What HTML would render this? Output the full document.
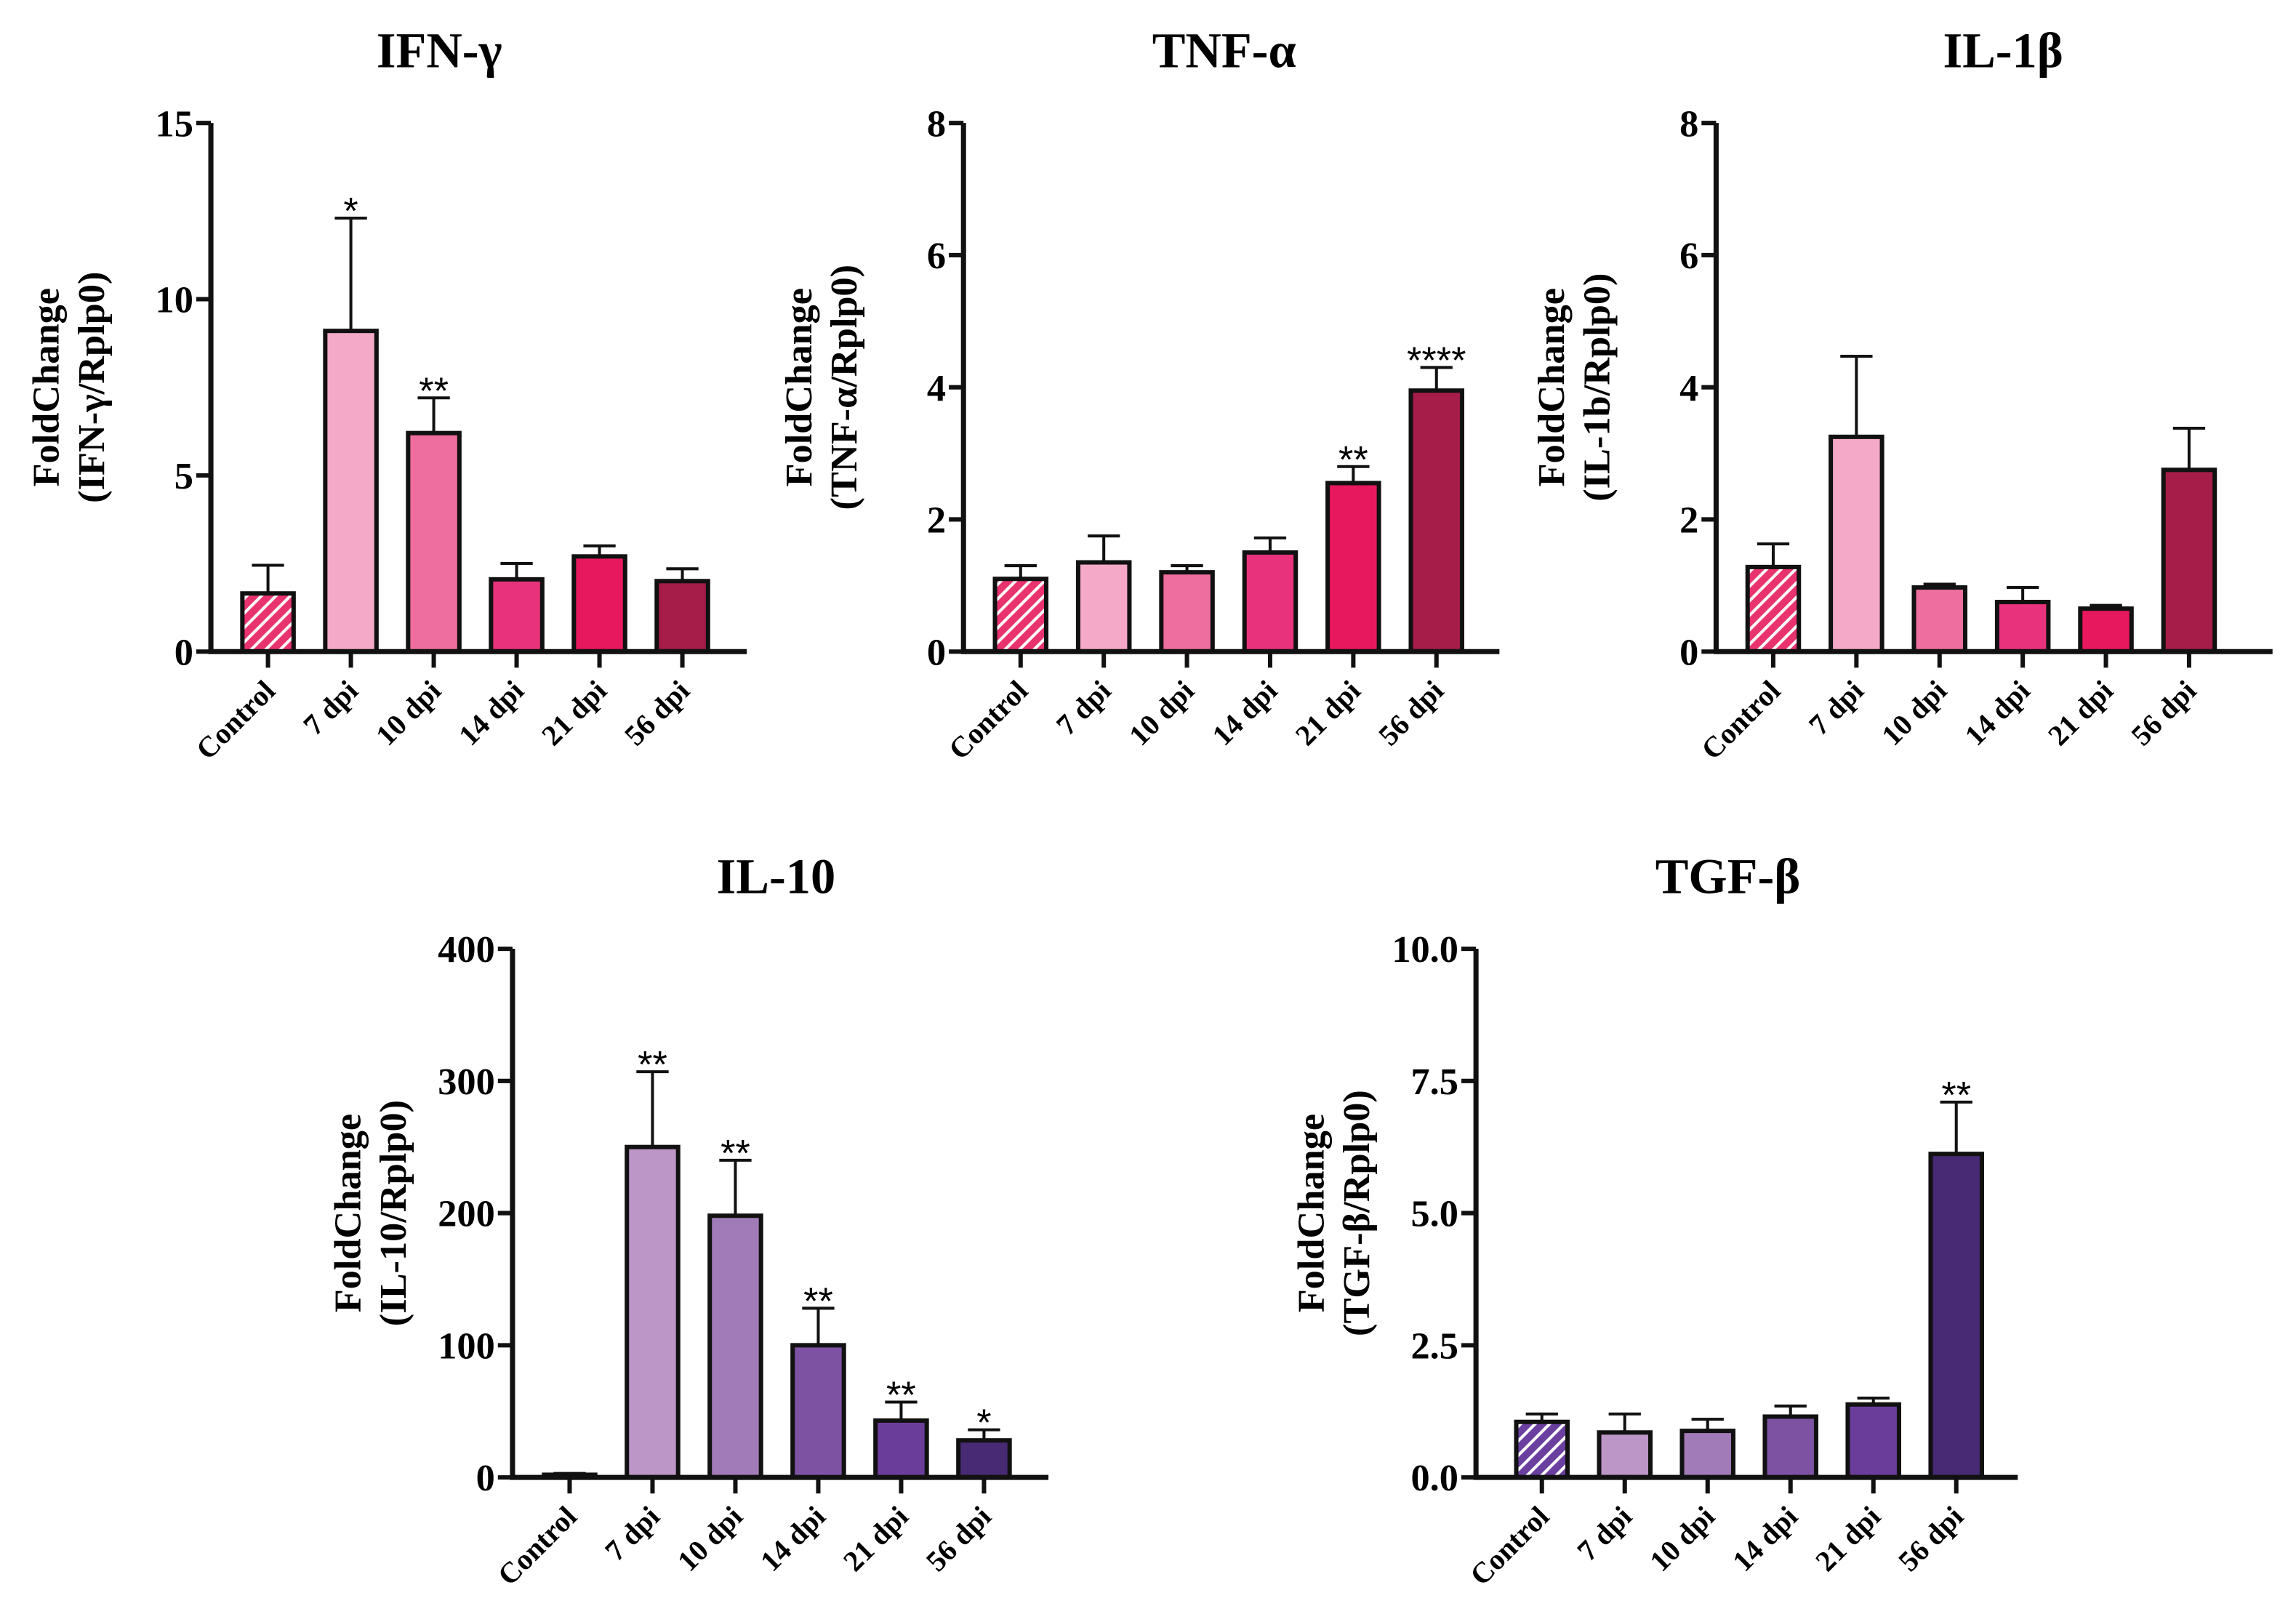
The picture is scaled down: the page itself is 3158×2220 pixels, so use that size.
<!DOCTYPE html>
<html><head><meta charset="utf-8"><style>
html,body{margin:0;padding:0;background:#fff;}
svg{display:block;font-family:"Liberation Serif",serif;font-weight:bold;}
</style></head><body>
<svg id="fig" width="3158" height="2220" viewBox="0 0 1568 1102.3" xmlns="http://www.w3.org/2000/svg">
<defs>
<pattern id="hatchPink" patternUnits="userSpaceOnUse" width="7" height="7" patternTransform="rotate(45)"><rect width="7" height="7" fill="#e8336e"/><rect x="0" y="0" width="2" height="7" fill="#fff"/></pattern>
<pattern id="hatchPurple" patternUnits="userSpaceOnUse" width="7" height="7" patternTransform="rotate(45)"><rect width="7" height="7" fill="#6a3fa0"/><rect x="0" y="0" width="2" height="7" fill="#fff"/></pattern>
</defs>
</svg>
<script>
const categories = ["Control","7 dpi","10 dpi","14 dpi","21 dpi","56 dpi"];
const ifnValues = [1.65, 9.1, 6.2, 2.05, 2.7, 2.0];
const ifnErrTop = [2.45, 12.3, 7.2, 2.5, 3.0, 2.35];
const ifnStars = ["", "*", "**", "", "", ""];
const ifnTicks = [0, 5, 10, 15];
const tnfValues = [1.1, 1.35, 1.2, 1.5, 2.55, 3.95];
const tnfErrTop = [1.3, 1.75, 1.3, 1.72, 2.8, 4.3];
const tnfStars = ["", "", "", "", "**", "****"];
const tnfTicks = [0, 2, 4, 6, 8];
const il1Values = [1.28, 3.25, 0.97, 0.75, 0.65, 2.75];
const il1ErrTop = [1.63, 4.47, 1.02, 0.97, 0.7, 3.38];
const il1Stars = ["", "", "", "", "", ""];
const il1Ticks = [0, 2, 4, 6, 8];
const il10Values = [2, 250, 198, 100, 43, 28];
const il10ErrTop = [3, 307, 240, 128, 57, 36];
const il10Stars = ["", "**", "**", "**", "**", "*"];
const il10Ticks = [0, 100, 200, 300, 400];
const tgfValues = [1.05, 0.85, 0.88, 1.15, 1.38, 6.12];
const tgfErrTop = [1.2, 1.2, 1.1, 1.35, 1.5, 7.1];
const tgfStars = ["", "", "", "", "", "**"];
const tgfTicks = ["0.0", "2.5", "5.0", "7.5", "10.0"];

const pinkColors = ["url(#hatchPink)","#f4a9c8","#ef6ea0","#e8327c","#e8185e","#a51d48"];
const purpleColors = ["url(#hatchPurple)","#bd96c8","#a07bb8","#7d52a3","#6a3d9a","#472a73"];

const svg = document.getElementById('fig');
const NS = "http://www.w3.org/2000/svg";
function mk(tag, attrs, parent){
  const e = document.createElementNS(NS, tag);
  for (const k in attrs) e.setAttribute(k, attrs[k]);
  (parent||svg).appendChild(e);
  return e;
}

function panel(o){
  const g = mk('g', {});
  
  
  const ticks = o.ticks.map(Number);
  const maxV = ticks[ticks.length-1];
  const y = v => o.y0 - (v / maxV) * (o.y0 - o.yTop);
  const x = i => o.x0 + o.first + i * o.step;
  const t = mk('text', {x:o.titleX, y:o.yTop-38, 'font-size':34, 'text-anchor':'middle'}, g);
  t.textContent = o.title;
  
  
  const midY = (o.y0 + o.yTop)/2;
  const yl = mk('text', {transform:`translate(${o.x0-104},${midY}) rotate(-90)`, 'font-size':26, 'text-anchor':'middle'}, g);
  yl.textContent = 'FoldChange';
  
  
  const yl2 = mk('text', {transform:`translate(${o.x0-73},${midY}) rotate(-90)`, 'font-size':26, 'text-anchor':'middle'}, g);
  yl2.textContent = o.ylabel;
  
  
  o.values.forEach((v,i)=>{
    const cx = x(i), w = 35;
    const eb = mk('path', {d:`M${cx} ${y(v)} V${y(o.err[i])} M${cx-11} ${y(o.err[i])} H${cx+11}`, stroke:'#111', 'stroke-width':2, fill:'none'}, g);
    
    
    const r = mk('rect', {x:cx-w/2, y:y(v), width:w, height:o.y0-y(v), fill:o.colors[i], stroke:'#111', 'stroke-width':3}, g);
    
    
    if (o.stars[i]) {
      const s = mk('text', {x:cx, y:y(o.err[i])+4, 'font-size':26, 'text-anchor':'middle', 'font-weight':'normal', 'font-family':'"Liberation Sans",sans-serif'}, g);
      s.textContent = o.stars[i];
      
      
    }
    const tk = mk('line', {x1:cx, x2:cx, y1:o.y0, y2:o.y0+11, stroke:'#111', 'stroke-width':3}, g);
    
    
    const lb = mk('text', {transform:`translate(${cx+6},${o.y0+28}) rotate(-45)`, 'font-size':20, 'text-anchor':'end'}, g);
    lb.textContent = categories[i];
    
    
  });
  const ax = mk('path', {d:`M${o.x0} ${o.yTop} V${o.y0} H${o.xEnd}`, stroke:'#111', 'stroke-width':3.5, fill:'none'}, g);
  
  
  o.ticks.forEach(tv=>{
    const yy = y(Number(tv));
    const tl = mk('line', {x1:o.x0-10, x2:o.x0, y1:yy, y2:yy, stroke:'#111', 'stroke-width':3}, g);
    
    
    const tt = mk('text', {x:o.x0-12, y:yy+9, 'font-size':26, 'text-anchor':'end'}, g);
    tt.textContent = tv;
    
    
  });
}

panel({key:'ifn', title:'IFN-γ', ylabel:'(IFN-γ/Rplp0)', x0:144, yTop:84, y0:445, xEnd:510, first:39, step:56.6, titleX:300, ticks:ifnTicks, values:ifnValues, err:ifnErrTop, stars:ifnStars, colors:pinkColors});
panel({key:'tnf', title:'TNF-α', ylabel:'(TNF-α/Rplp0)', x0:658, yTop:84, y0:445, xEnd:1024, first:39, step:56.8, titleX:836, ticks:tnfTicks, values:tnfValues, err:tnfErrTop, stars:tnfStars, colors:pinkColors});
panel({key:'il1b', title:'IL-1β', ylabel:'(IL-1b/Rplp0)', x0:1172, yTop:84, y0:445, xEnd:1552, first:39, step:56.8, titleX:1368, ticks:il1Ticks, values:il1Values, err:il1ErrTop, stars:il1Stars, colors:pinkColors});
panel({key:'il10', title:'IL-10', ylabel:'(IL-10/Rplp0)', x0:350, yTop:648, y0:1009, xEnd:716, first:39, step:56.6, titleX:530, ticks:il10Ticks, values:il10Values, err:il10ErrTop, stars:il10Stars, colors:purpleColors});
panel({key:'tgf', title:'TGF-β', ylabel:'(TGF-β/Rplp0)', x0:1008, yTop:648, y0:1009, xEnd:1378, first:45, step:56.6, titleX:1180, ticks:tgfTicks, values:tgfValues, err:tgfErrTop, stars:tgfStars, colors:purpleColors});
</script>
</body></html>
